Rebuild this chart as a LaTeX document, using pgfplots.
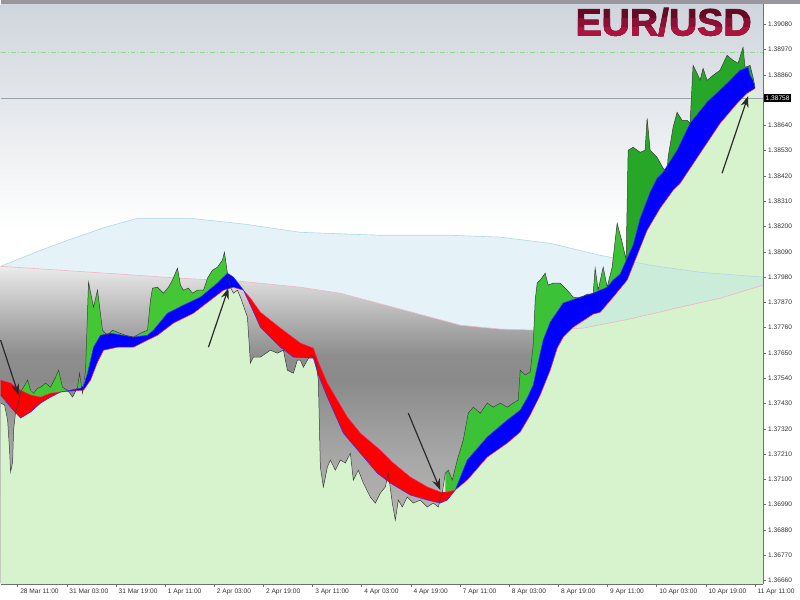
\documentclass[border=0pt]{standalone}
\usepackage{fontspec}
\setmainfont{Liberation Sans}
\newfontfamily\titlefont{Liberation Sans}[BoldFeatures={FakeBold=2}]
\usepackage{graphicx}
\usepackage{pgfplots}
\usepackage{pgfplotstable}
\pgfplotsset{compat=1.18}
\usetikzlibrary{arrows.meta}

\definecolor{bgtop}{HTML}{CFD5DC}
\definecolor{stripc}{HTML}{99969E}
\definecolor{cloudc}{HTML}{BFE3EF}
\definecolor{cloudline}{HTML}{B0D8E4}
\definecolor{pinkline}{HTML}{F0B4C4}
\definecolor{lgreen}{HTML}{D6F3CD}
\definecolor{gright}{HTML}{3CC236}
\definecolor{gtop}{HTML}{27A727}
\definecolor{gleft}{HTML}{44C734}
\definecolor{bandred}{HTML}{FF0000}
\definecolor{bandblue}{HTML}{0000FF}
\definecolor{sline}{HTML}{FF2060}
\definecolor{fline}{HTML}{3030FF}
\definecolor{priceline}{HTML}{3A3A3A}
\definecolor{dashgreen}{HTML}{8FD88F}
\definecolor{curline}{HTML}{9AA3AB}
\definecolor{axisc}{HTML}{707070}
\definecolor{tickc}{HTML}{333333}
\definecolor{tA}{HTML}{640A24}
\definecolor{tB}{HTML}{8A1035}
\definecolor{tC}{HTML}{AC143E}
\definecolor{arrowc}{HTML}{2A2A2A}
\definecolor{gA}{HTML}{ECECEC}
\definecolor{gB}{HTML}{DCDCDC}
\definecolor{gC}{HTML}{C6C6C6}
\definecolor{gD}{HTML}{A6A6A6}
\definecolor{gE}{HTML}{8E8E8E}
\definecolor{gF}{HTML}{8A8A8A}
\definecolor{gG}{HTML}{9A9A9A}
\definecolor{gH}{HTML}{A8A8A8}
\definecolor{gI}{HTML}{B6B2B0}
\definecolor{gJ}{HTML}{BCB8B6}
\pgfdeclareverticalshading{grayfill}{100bp}{color(0bp)=(gJ); color(25bp)=(gJ); color(35bp)=(gI); color(44.5bp)=(gH); color(50.8bp)=(gG); color(57.1bp)=(gF); color(61bp)=(gE); color(65bp)=(gD); color(69.7bp)=(gC); color(72.8bp)=(gB); color(75bp)=(gA); color(100bp)=(gA)}

\newcommand\tickfont{\fontsize{6.6}{7}\selectfont}
\newcommand\titletext{\scalebox{1.03}[1]{\titlefont\fontsize{38}{38}\selectfont\bfseries EUR/USD}}

% price
\pgfplotstableread{
x y
0 1.37432
4 1.37423
7 1.37358
9 1.37227
10 1.37132
12 1.37175
13 1.37314
15 1.37393
18 1.37436
20 1.37480
24 1.37510
27 1.37532
30 1.37488
33 1.37475
37 1.37497
40 1.37501
45 1.37519
50 1.37501
55 1.37545
58 1.37575
62 1.37501
67 1.37488
72 1.37458
77 1.37501
79 1.37562
82 1.37475
85 1.37575
88 1.37958
93 1.37849
97 1.37923
102 1.37749
107 1.37727
112 1.37749
117 1.37740
125 1.37727
133 1.37719
140 1.37736
147 1.37749
150 1.37880
152 1.37932
157 1.37936
163 1.37910
168 1.37936
172 1.37967
177 1.38019
180 1.37945
183 1.37923
188 1.37932
192 1.37910
197 1.37923
203 1.37923
207 1.37975
212 1.38010
217 1.38023
222 1.38054
224 1.38088
227 1.37997
230 1.37936
233 1.37910
237 1.37923
240 1.37893
247 1.37806
250 1.37606
253 1.37632
260 1.37632
270 1.37662
277 1.37649
283 1.37662
287 1.37575
293 1.37562
297 1.37619
300 1.37619
303 1.37588
310 1.37641
315 1.37627
318 1.37532
320 1.37154
323 1.37067
327 1.37154
330 1.37184
335 1.37140
340 1.37184
345 1.37171
350 1.37214
353 1.37097
358 1.37140
363 1.37084
370 1.37023
375 1.36997
380 1.37040
385 1.37067
388 1.37127
392 1.36997
395 1.36923
398 1.37010
402 1.36980
407 1.37023
413 1.36997
420 1.37010
427 1.36980
433 1.36997
438 1.36980
442 1.37040
445 1.37127
448 1.37140
452 1.37097
457 1.37184
463 1.37271
468 1.37388
473 1.37414
480 1.37388
487 1.37432
493 1.37414
500 1.37432
507 1.37414
513 1.37432
518 1.37445
520 1.37575
525 1.37554
530 1.37567
533 1.37684
535 1.37880
537 1.37954
540 1.37967
545 1.37997
548 1.37945
553 1.37954
560 1.37954
567 1.37923
573 1.37893
580 1.37888
587 1.37906
593 1.37906
595 1.38019
598 1.37923
603 1.38023
607 1.37936
612 1.38023
617 1.38214
622 1.38132
626 1.38054
628 1.38532
633 1.38545
640 1.38523
645 1.38532
647 1.38671
650 1.38532
657 1.38501
663 1.38454
667 1.38436
668 1.38501
673 1.38632
677 1.38697
682 1.38662
687 1.38662
690 1.38649
693 1.38901
697 1.38867
700 1.38836
703 1.38888
707 1.38836
713 1.38858
720 1.38880
727 1.38945
733 1.38923
738 1.38910
743 1.38980
745 1.38893
750 1.38901
753 1.38849
755 1.38806
}\Price

% light green region under the price
\pgfplotstableread{
x y
0 1.37432
4 1.37423
7 1.37358
9 1.37227
10 1.37132
12 1.37175
13 1.37314
15 1.37393
18 1.37436
20 1.37480
24 1.37510
27 1.37532
30 1.37488
33 1.37475
37 1.37497
40 1.37501
45 1.37519
50 1.37501
55 1.37545
58 1.37575
62 1.37501
67 1.37488
72 1.37458
77 1.37501
79 1.37562
82 1.37475
85 1.37575
88 1.37958
93 1.37849
97 1.37923
102 1.37749
107 1.37727
112 1.37749
117 1.37740
125 1.37727
133 1.37719
140 1.37736
147 1.37749
150 1.37880
152 1.37932
157 1.37936
163 1.37910
168 1.37936
172 1.37967
177 1.38019
180 1.37945
183 1.37923
188 1.37932
192 1.37910
197 1.37923
203 1.37923
207 1.37975
212 1.38010
217 1.38023
222 1.38054
224 1.38088
227 1.37997
230 1.37936
233 1.37910
237 1.37923
240 1.37893
247 1.37806
250 1.37606
253 1.37632
260 1.37632
270 1.37662
277 1.37649
283 1.37662
287 1.37575
293 1.37562
297 1.37619
300 1.37619
303 1.37588
310 1.37641
315 1.37627
318 1.37532
320 1.37154
323 1.37067
327 1.37154
330 1.37184
335 1.37140
340 1.37184
345 1.37171
350 1.37214
353 1.37097
358 1.37140
363 1.37084
370 1.37023
375 1.36997
380 1.37040
385 1.37067
388 1.37127
392 1.36997
395 1.36923
398 1.37010
402 1.36980
407 1.37023
413 1.36997
420 1.37010
427 1.36980
433 1.36997
438 1.36980
442 1.37040
445 1.37127
448 1.37140
452 1.37097
457 1.37184
463 1.37271
468 1.37388
473 1.37414
480 1.37388
487 1.37432
493 1.37414
500 1.37432
507 1.37414
513 1.37432
518 1.37445
520 1.37575
525 1.37554
530 1.37567
533 1.37684
535 1.37880
537 1.37954
540 1.37967
545 1.37997
548 1.37945
553 1.37954
560 1.37954
567 1.37923
573 1.37893
580 1.37888
587 1.37906
593 1.37906
595 1.38019
598 1.37923
603 1.38023
607 1.37936
612 1.38023
617 1.38214
622 1.38132
626 1.38054
628 1.38532
633 1.38545
640 1.38523
645 1.38532
647 1.38671
650 1.38532
657 1.38501
663 1.38454
667 1.38436
668 1.38501
673 1.38632
677 1.38697
682 1.38662
687 1.38662
690 1.38649
693 1.38901
697 1.38867
700 1.38836
703 1.38888
707 1.38836
713 1.38858
720 1.38880
727 1.38945
733 1.38923
738 1.38910
743 1.38980
745 1.38893
750 1.38901
753 1.38849
755 1.38806
757 1.38762
763 1.38762
763 1.36600
0 1.36600
}\PolyLG

% fast average
\pgfplotstableread{
x y
0 1.37467
10 1.37414
20 1.37367
30 1.37393
40 1.37432
50 1.37458
60 1.37480
70 1.37488
80 1.37497
83 1.37506
87 1.37562
93 1.37675
100 1.37727
110 1.37736
133 1.37719
147 1.37727
153 1.37749
167 1.37823
183 1.37858
200 1.37893
217 1.37954
227 1.37997
233 1.37980
240 1.37941
243 1.37923
250 1.37858
260 1.37762
280 1.37675
293 1.37632
313 1.37627
318 1.37554
327 1.37458
343 1.37301
360 1.37214
377 1.37127
390 1.37084
410 1.37032
427 1.37010
440 1.36997
447 1.37010
455 1.37054
467 1.37184
487 1.37284
507 1.37358
520 1.37401
527 1.37454
533 1.37510
538 1.37610
543 1.37706
550 1.37784
563 1.37867
580 1.37893
593 1.37910
607 1.37936
613 1.37967
620 1.37993
627 1.38062
633 1.38119
640 1.38236
650 1.38349
657 1.38410
663 1.38436
677 1.38532
690 1.38649
707 1.38741
727 1.38823
740 1.38880
748 1.38893
750 1.38858
753 1.38836
}\Fast

% slow average
\pgfplotstableread{
x y
0 1.37532
10 1.37519
20 1.37488
30 1.37467
40 1.37458
50 1.37475
60 1.37480
70 1.37484
83 1.37488
90 1.37532
97 1.37610
103 1.37662
117 1.37675
133 1.37675
147 1.37706
157 1.37727
173 1.37780
193 1.37823
210 1.37880
223 1.37923
233 1.37936
243 1.37923
250 1.37888
260 1.37827
280 1.37758
300 1.37693
313 1.37671
318 1.37610
327 1.37519
347 1.37371
360 1.37301
380 1.37227
393 1.37171
410 1.37110
427 1.37067
440 1.37045
447 1.37045
455 1.37054
467 1.37097
487 1.37197
507 1.37258
520 1.37306
530 1.37380
540 1.37467
550 1.37575
557 1.37671
563 1.37719
573 1.37762
593 1.37819
600 1.37827
613 1.37893
627 1.37967
633 1.38032
643 1.38141
647 1.38184
660 1.38280
673 1.38358
680 1.38388
700 1.38519
720 1.38649
737 1.38736
747 1.38780
755 1.38801
}\Slow

% cloud upper edge
\pgfplotstableread{
x y
0 1.38027
35 1.38088
70 1.38145
105 1.38197
137 1.38236
190 1.38236
245 1.38210
300 1.38175
380 1.38162
450 1.38162
500 1.38154
550 1.38127
600 1.38075
650 1.38032
700 1.38001
763 1.37980
}\CloudA

% cloud lower edge
\pgfplotstableread{
x y
0 1.38027
60 1.38010
120 1.37993
180 1.37975
240 1.37962
300 1.37936
340 1.37910
393 1.37849
430 1.37806
460 1.37771
500 1.37754
540 1.37749
583 1.37758
633 1.37801
680 1.37849
720 1.37888
763 1.37945
}\CloudB

% white area between the lower cloud edge and the top of the grey gradient
\pgfplotstableread{
x y
0 1.38027
60 1.38010
120 1.37993
180 1.37975
240 1.37962
300 1.37936
340 1.37910
393 1.37849
430 1.37806
460 1.37771
500 1.37754
540 1.37749
583 1.37758
633 1.37801
680 1.37849
720 1.37888
763 1.37945
763 1.38032
0 1.38032
}\PolyWhite

% cloud polygon
\pgfplotstableread{
x y
0 1.38027
35 1.38088
70 1.38145
105 1.38197
137 1.38236
190 1.38236
245 1.38210
300 1.38175
380 1.38162
450 1.38162
500 1.38154
550 1.38127
600 1.38075
650 1.38032
700 1.38001
763 1.37980
763 1.37945
720 1.37888
680 1.37849
633 1.37801
583 1.37758
540 1.37749
500 1.37754
460 1.37771
430 1.37806
393 1.37849
340 1.37910
300 1.37936
240 1.37962
180 1.37975
120 1.37993
60 1.38010
0 1.38027
}\PolyCloud

% bands
\pgfplotstableread{
x y
0 1.37467
10 1.37414
20 1.37367
30 1.37393
40 1.37432
50 1.37458
60 1.37480
50 1.37475
40 1.37458
30 1.37467
20 1.37488
10 1.37519
0 1.37532
}\RedL
\pgfplotstableread{
x y
60 1.37480
70 1.37488
80 1.37497
83 1.37506
87 1.37562
93 1.37675
100 1.37727
110 1.37736
133 1.37719
147 1.37727
153 1.37749
167 1.37823
183 1.37858
200 1.37893
217 1.37954
227 1.37997
233 1.37980
240 1.37941
243 1.37923
233 1.37936
223 1.37923
210 1.37880
193 1.37823
173 1.37780
157 1.37727
147 1.37706
133 1.37675
117 1.37675
103 1.37662
97 1.37610
90 1.37532
83 1.37488
70 1.37484
}\BlueL
\pgfplotstableread{
x y
243 1.37923
250 1.37858
260 1.37762
280 1.37675
293 1.37632
313 1.37627
318 1.37554
327 1.37458
343 1.37301
360 1.37214
377 1.37127
390 1.37084
410 1.37032
427 1.37010
440 1.36997
447 1.37010
455 1.37054
447 1.37045
440 1.37045
427 1.37067
410 1.37110
393 1.37171
380 1.37227
360 1.37301
347 1.37371
327 1.37519
318 1.37610
313 1.37671
300 1.37693
280 1.37758
260 1.37827
250 1.37888
}\RedM
\pgfplotstableread{
x y
455 1.37054
467 1.37184
487 1.37284
507 1.37358
520 1.37401
527 1.37454
533 1.37510
538 1.37610
543 1.37706
550 1.37784
563 1.37867
580 1.37893
593 1.37910
607 1.37936
613 1.37967
620 1.37993
627 1.38062
633 1.38119
640 1.38236
650 1.38349
657 1.38410
663 1.38436
677 1.38532
690 1.38649
707 1.38741
727 1.38823
740 1.38880
748 1.38893
750 1.38858
753 1.38836
755 1.38801
747 1.38780
737 1.38736
720 1.38649
700 1.38519
680 1.38388
673 1.38358
660 1.38280
647 1.38184
643 1.38141
633 1.38032
627 1.37967
613 1.37893
600 1.37827
593 1.37819
573 1.37762
563 1.37719
557 1.37671
550 1.37575
540 1.37467
530 1.37380
520 1.37306
507 1.37258
487 1.37197
467 1.37097
}\BlueR

% green areas between price and fast average
\pgfplotstableread{
x y
18 1.37436
20 1.37480
24 1.37510
27 1.37532
30 1.37488
33 1.37475
37 1.37497
40 1.37501
45 1.37519
50 1.37501
55 1.37545
58 1.37575
62 1.37501
67 1.37488
67 1.37486
60 1.37480
50 1.37458
40 1.37432
30 1.37393
20 1.37367
18 1.37376
}\GreenA
\pgfplotstableread{
x y
75 1.37484
77 1.37501
79 1.37562
81 1.37504
81 1.37500
75 1.37492
}\GreenB
\pgfplotstableread{
x y
84 1.37542
85 1.37575
88 1.37958
93 1.37849
97 1.37923
102 1.37749
107 1.37727
112 1.37749
117 1.37740
125 1.37727
133 1.37719
140 1.37736
147 1.37749
150 1.37880
152 1.37932
157 1.37936
163 1.37910
168 1.37936
172 1.37967
177 1.38019
180 1.37945
183 1.37923
188 1.37932
192 1.37910
197 1.37923
203 1.37923
207 1.37975
212 1.38010
217 1.38023
222 1.38054
224 1.38088
227 1.37997
228 1.37977
228 1.37994
227 1.37997
217 1.37954
200 1.37893
183 1.37858
167 1.37823
153 1.37749
147 1.37727
133 1.37719
110 1.37736
100 1.37727
93 1.37675
87 1.37562
84 1.37520
}\GreenC
\pgfplotstableread{
x y
445 1.37127
448 1.37140
452 1.37097
457 1.37184
463 1.37271
468 1.37388
473 1.37414
480 1.37388
487 1.37432
493 1.37414
500 1.37432
507 1.37414
513 1.37432
518 1.37445
520 1.37575
525 1.37554
530 1.37567
533 1.37684
535 1.37880
537 1.37954
540 1.37967
545 1.37997
548 1.37945
553 1.37954
560 1.37954
567 1.37923
573 1.37893
580 1.37888
587 1.37906
593 1.37906
595 1.38019
598 1.37923
603 1.38023
607 1.37936
612 1.38023
617 1.38214
622 1.38132
626 1.38054
626 1.38052
620 1.37993
613 1.37967
607 1.37936
593 1.37910
580 1.37893
563 1.37867
550 1.37784
543 1.37706
538 1.37610
533 1.37510
527 1.37454
520 1.37401
507 1.37358
487 1.37284
467 1.37184
455 1.37054
447 1.37010
445 1.37006
}\GreenD
\pgfplotstableread{
x y
626 1.38054
628 1.38532
633 1.38545
640 1.38523
645 1.38532
647 1.38671
650 1.38532
657 1.38501
663 1.38454
667 1.38436
668 1.38501
673 1.38632
677 1.38697
682 1.38662
687 1.38662
690 1.38649
693 1.38901
697 1.38867
700 1.38836
703 1.38888
707 1.38836
713 1.38858
720 1.38880
727 1.38945
733 1.38923
738 1.38910
743 1.38980
745 1.38893
750 1.38901
753 1.38849
755 1.38806
753 1.38836
750 1.38858
748 1.38893
740 1.38880
727 1.38823
707 1.38741
690 1.38649
677 1.38532
663 1.38436
657 1.38410
650 1.38349
640 1.38236
633 1.38119
627 1.38062
626 1.38052
}\GreenE

\begin{document}
\begin{tikzpicture}
% backgrounds (1pt = one pixel of the reference; axis box is 763pt x 584pt)
\fill[white] (0pt,0pt) rectangle (763pt,584pt);
\fill[top color=bgtop, bottom color=white] (0pt,354pt) rectangle (763pt,580pt);
\shade[shading=grayfill] (0pt,0pt) rectangle (763pt,318pt);
\begin{axis}[
  at={(0pt,0pt)}, anchor=south west,
  scale only axis, width=763pt, height=584pt,
  xmin=0, xmax=763, ymin=1.36645, ymax=1.39184,
  axis x line*=bottom, axis y line*=right,
  axis line style={draw=axisc, line width=0.8pt},
  axis on top,
  tick align=outside, major tick length=3pt,
  tick style={draw=axisc, line width=0.5pt},
  xtick={17,66.2,115.4,164.6,213.8,263,312.2,361.4,410.6,459.8,509,558.2,607.4,656.6,705.8,755},
  xticklabels={28 Mar 11:00,31 Mar 03:00,31 Mar 19:00,1 Apr 11:00,2 Apr 03:00,2 Apr 19:00,3 Apr 11:00,4 Apr 03:00,4 Apr 19:00,7 Apr 11:00,8 Apr 03:00,8 Apr 19:00,9 Apr 11:00,10 Apr 03:00,10 Apr 19:00,11 Apr 11:00},
  xticklabel style={anchor=north west, xshift=1pt, font=\tickfont, text=tickc, inner sep=1.5pt},
  ytick={1.36660,1.36770,1.36880,1.36990,1.37100,1.37210,1.37320,1.37430,1.37540,1.37650,1.37760,1.37870,1.37980,1.38090,1.38200,1.38310,1.38420,1.38530,1.38640,1.38860,1.38970,1.39080},
  yticklabel style={anchor=west, font=\tickfont, text=tickc, inner sep=2pt},
  scaled y ticks=false, scaled x ticks=false,
  y tick label style={/pgf/number format/.cd, fixed, fixed zerofill, precision=5},
  /pgf/number format/assume math mode=true,
]
\addplot[fill=white, draw=none] table {\PolyWhite};
\addplot[fill=lgreen, draw=none] table {\PolyLG};
\addplot[fill=cloudc, fill opacity=0.4, draw=none] table {\PolyCloud};
\addplot[draw=cloudline, line width=0.6pt] table {\CloudA};
\addplot[draw=pinkline, line width=0.6pt] table {\CloudB};

% level lines
\addplot[draw=dashgreen, line width=0.8pt, dash pattern=on 5pt off 2pt on 1pt off 2pt] coordinates {(0,1.38958) (763,1.38958)};
\addplot[draw=curline, line width=1.1pt] coordinates {(0,1.38758) (763,1.38758)};

% green areas
\addplot[fill=gleft, draw=none] table {\GreenA};
\addplot[fill=gleft, draw=none] table {\GreenB};
\addplot[fill=gleft, draw=none] table {\GreenC};
\addplot[fill=gright, draw=none] table {\GreenD};
\addplot[fill=gtop, draw=none] table {\GreenE};

% bands
\addplot[fill=bandred, draw=none] table {\RedL};
\addplot[fill=bandblue, draw=none] table {\BlueL};
\addplot[fill=bandred, draw=none] table {\RedM};
\addplot[fill=bandblue, draw=none] table {\BlueR};

\addplot[draw=sline, line width=0.5pt] table {\Slow};
\addplot[draw=fline, line width=0.5pt] table {\Fast};
\addplot[draw=priceline, line width=0.5pt] table {\Price};

\coordinate (a1s) at (axis cs:0,1.37706);
\coordinate (a1e) at (axis cs:18,1.37467);
\coordinate (a2s) at (axis cs:208,1.37675);
\coordinate (a2e) at (axis cs:228,1.37932);
\coordinate (a3s) at (axis cs:408,1.37388);
\coordinate (a3e) at (axis cs:440,1.37054);
\coordinate (a4s) at (axis cs:722,1.38432);
\coordinate (a4e) at (axis cs:748,1.38767);
\coordinate (ttl) at (axis cs:663.5,1.39032);
\coordinate (pbox) at (axis cs:763,1.38758);
\end{axis}
\fill[stripc] (0pt,580pt) rectangle (800pt,584pt);
\draw[arrowc, line width=1.2pt, -{Stealth[length=11pt,width=8pt]}] (a1s) -- (a1e);
\draw[arrowc, line width=1.2pt, -{Stealth[length=11pt,width=8pt]}] (a2s) -- (a2e);
\draw[arrowc, line width=1.2pt, -{Stealth[length=11pt,width=8pt]}] (a3s) -- (a3e);
\draw[arrowc, line width=1.2pt, -{Stealth[length=11pt,width=8pt]}] (a4s) -- (a4e);
% title, darker at the top and brighter at the bottom
\node[anchor=base, text=tA, inner sep=0pt] at (ttl) {\titletext};
\begin{scope}
\clip (500pt,0pt) rectangle (800pt,566pt);
\node[anchor=base, text=tB, inner sep=0pt] at (ttl) {\titletext};
\end{scope}
\begin{scope}
\clip (500pt,0pt) rectangle (800pt,557pt);
\node[anchor=base, text=tC, inner sep=0pt] at (ttl) {\titletext};
\end{scope}
\node[anchor=west, fill=black, text=white, font=\tickfont, inner sep=1.5pt] at ([xshift=1pt]pbox) {1.38758};
\path (0pt,-16pt) rectangle (800pt,584pt);
\end{tikzpicture}
\end{document}
